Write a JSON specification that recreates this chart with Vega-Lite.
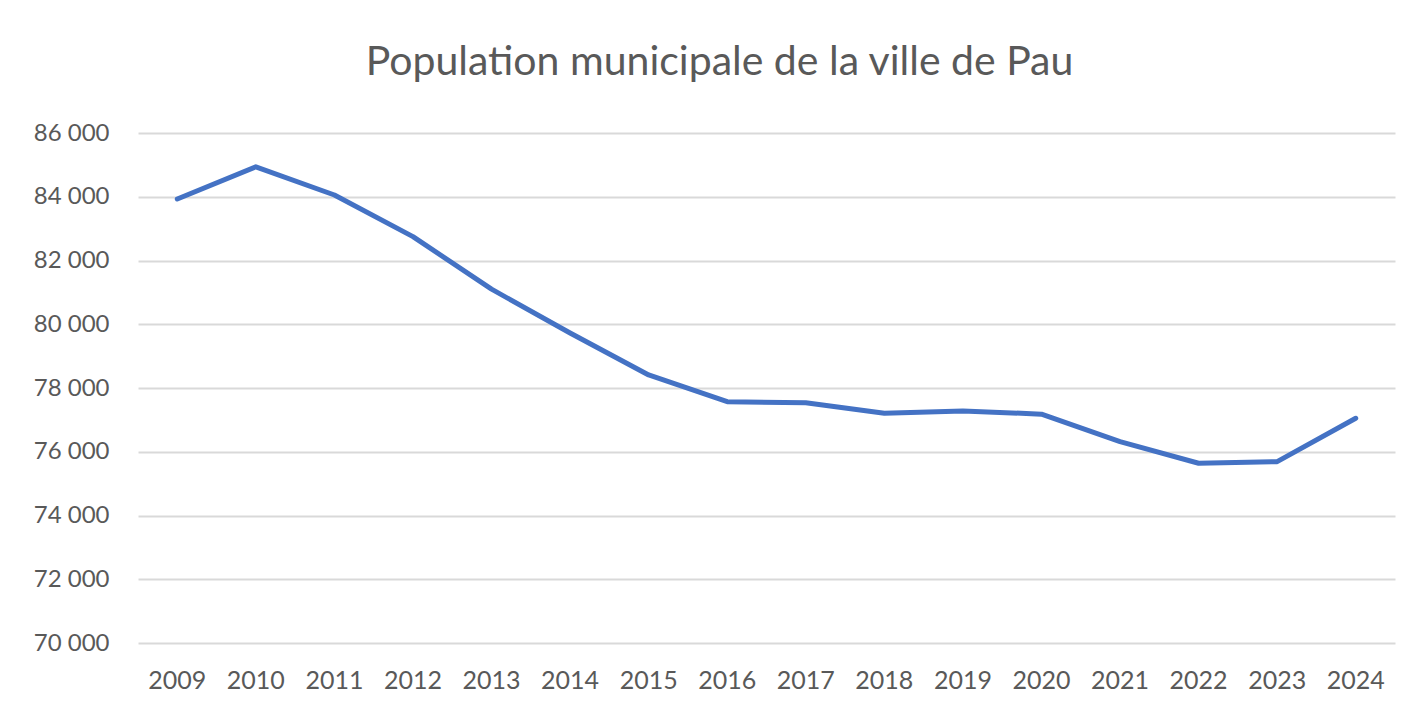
{
  "$schema": "https://vega.github.io/schema/vega-lite/v6.json",
  "autosize": "none",
  "width": 1257,
  "height": 510,
  "padding": {"left": 138, "top": 133, "right": 18, "bottom": 69},
  "background": "white",
  "title": {
    "text": "Population municipale de la ville de Pau",
    "font": "Lato",
    "fontSize": 41,
    "fontWeight": "normal",
    "color": "#595959",
    "anchor": "middle",
    "frame": "group",
    "baseline": "alphabetic",
    "offset": 5,
    "dx": -47
  },
  "data": {
    "values": [
      {"annee": "2009", "population": 83930},
      {"annee": "2010", "population": 84940},
      {"annee": "2011", "population": 84055},
      {"annee": "2012", "population": 82750},
      {"annee": "2013", "population": 81100},
      {"annee": "2014", "population": 79725},
      {"annee": "2015", "population": 78410},
      {"annee": "2016", "population": 77570},
      {"annee": "2017", "population": 77540},
      {"annee": "2018", "population": 77210},
      {"annee": "2019", "population": 77280},
      {"annee": "2020", "population": 77180},
      {"annee": "2021", "population": 76315},
      {"annee": "2022", "population": 75640},
      {"annee": "2023", "population": 75690},
      {"annee": "2024", "population": 77050}
    ]
  },
  "mark": {"type": "line", "color": "#4472C4", "strokeWidth": 5, "strokeCap": "round", "strokeJoin": "round"},
  "encoding": {
    "x": {
      "field": "annee",
      "type": "ordinal",
      "scale": {"type": "band", "paddingInner": 0, "paddingOuter": 0},
      "axis": {
        "title": null,
        "labelAngle": 0,
        "domain": false,
        "ticks": false,
        "grid": false,
        "labelFont": "Lato",
        "labelFontSize": 25,
        "labelColor": "#595959",
        "labelPadding": 25
      }
    },
    "y": {
      "field": "population",
      "type": "quantitative",
      "scale": {"domain": [70000, 86000], "nice": false, "zero": false},
      "axis": {
        "title": null,
        "values": [70000, 72000, 74000, 76000, 78000, 80000, 82000, 84000, 86000],
        "format": ",d",
        "labelExpr": "replace(datum.label, ',', ' ')",
        "domain": false,
        "ticks": false,
        "grid": true,
        "gridColor": "#d9d9d9",
        "gridWidth": 2,
        "labelFont": "Lato",
        "labelFontSize": 24,
        "labelColor": "#595959",
        "labelPadding": 29
      }
    }
  },
  "config": {"view": {"stroke": null}}
}
